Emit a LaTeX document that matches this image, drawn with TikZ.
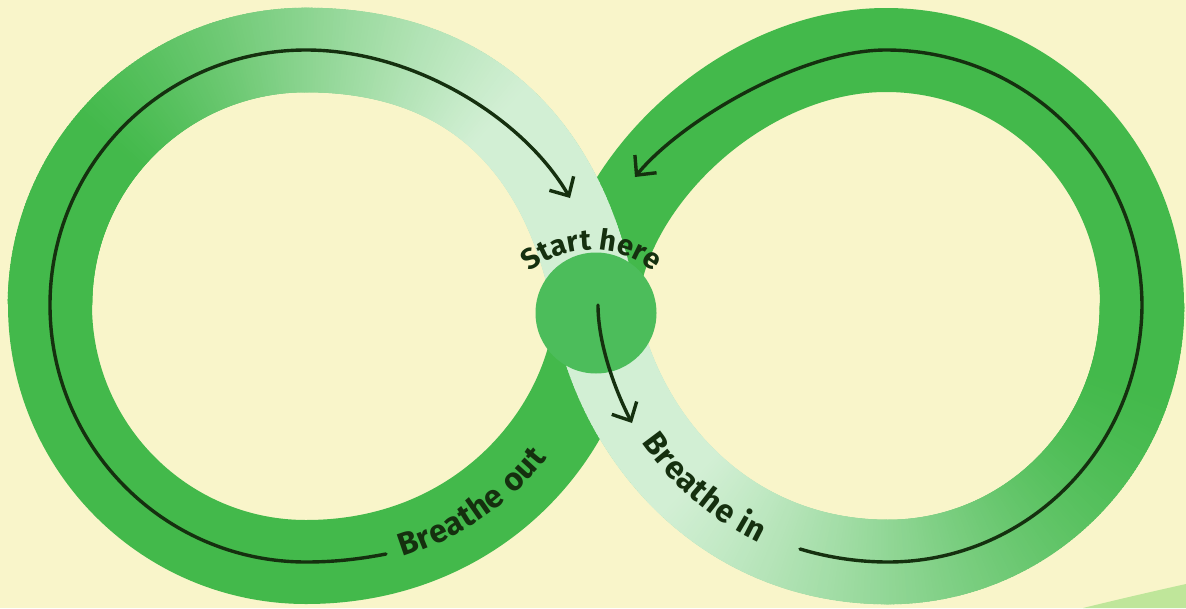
\documentclass[tikz,border=0pt]{standalone}
\usepackage{fontspec}
\setmainfont{Fira Sans}
\usetikzlibrary{decorations.markings,decorations.text,arrows.meta}
\definecolor{bg}{HTML}{F9F5CA}
\definecolor{darkg}{HTML}{43B94B}
\definecolor{lightg}{HTML}{D2EFD4}
\definecolor{circg}{HTML}{4CBD5B}
\definecolor{ink}{HTML}{15300F}
\definecolor{cornerg}{HTML}{BFE69A}
\newcommand\gradpiece{%
  \pgfgettransformentries{\tma}{\tmb}{\tmc}{\tmd}{\tmx}{\tmy}%
  \pgfmathsetmacro\gradt{100*((\tmx<595) ? max(0,min(1,(\tmx-110)/390)) : max(0,min(1,1-(\tmx-690)/440)))}%
  \colorlet{segc}{lightg!\gradt!darkg}%
  \fill[segc] (-2.6pt,-42.3pt) rectangle (2.6pt,42.3pt);%
}
\tikzset{
  band/.style={draw=darkg, line width=84pt},
  gradband/.style={decoration={markings, mark=between positions 0 and 1 step 3pt with {\gradpiece}}, decorate},
  arrowline/.style={draw=ink, line width=3.4pt, line cap=round, -{Straight Barb[length=14.5pt,width=28pt]}},
  hub/.style={circle, fill=circg, minimum size=121pt, inner sep=0pt},
  labeltext/.style={decorate, decoration={text along path, text color=ink, #1}}
}
\begin{document}
\begin{tikzpicture}[x=1pt,y=-1pt]
\useasboundingbox (0,0) rectangle (1186,608);
\fill[bg] (0,0) rectangle (1186,608);
\fill[cornerg] (1083,608) .. controls (1120,599) and (1150,592) .. (1186,584) -- (1186,608) -- cycle;

\coordinate (C) at (596,313);
\coordinate (LB) at (306,562);
\coordinate (LL) at (50,305);
\coordinate (LT) at (306,50);
\coordinate (RB) at (888,562);
\coordinate (RR) at (1142,305);
\coordinate (RT) at (886,50);

% dark band (whole figure eight)
\path[band] (C) .. controls (622,443) and (728,562) .. (RB)
  .. controls (1028,562) and (1142,447) .. (RR)
  .. controls (1142,164) and (1027,50) .. (RT)
  .. controls (736,50) and (596,193) .. (C)
  .. controls (590.5,423) and (486,562) .. (LB)
  .. controls (165,562) and (50,447) .. (LL)
  .. controls (50,164) and (165,50) .. (LT)
  .. controls (476,50) and (568.8,153) .. cycle;

% light strand with horizontal gradient
\path[gradband] (LL) .. controls (50,164) and (165,50) .. (LT)
  .. controls (476,50) and (568.8,153) .. (C)
  .. controls (622,443) and (728,562) .. (RB)
  .. controls (1028,562) and (1142,447) .. (RR);

\node[hub] (hubnode) at (C) {};

% arrows
\coordinate (a1s) at (386,554);
\coordinate (a1e) at (570,198);
\draw[arrowline] (a1s) .. controls (355,560) and (330,562) .. (LB)
  .. controls (165,562) and (50,447) .. (LL)
  .. controls (50,164) and (165,50) .. (LT)
  .. controls (416,50) and (525,120) .. (a1e);
\coordinate (a2s) at (800,549);
\coordinate (a2e) at (635,177);
\draw[arrowline] (a2s) .. controls (830,558) and (860,562) .. (RB)
  .. controls (1028,562) and (1141,447) .. (RR)
  .. controls (1141,164) and (1027,50) .. (RT)
  .. controls (800,50) and (680,122) .. (a2e);
\coordinate (a3s) at (598,305);
\coordinate (a3e) at (632,423);
\draw[arrowline] (a3s) .. controls (598,345) and (616,392) .. (a3e);

% labels
\path[labeltext={text={|\fontsize{29pt}{30pt}\selectfont\bfseries|Start here}, text align=center}]
  (507,299) .. controls (544.7,233.7) and (639.3,233.7) .. (677,299);
\path[labeltext={text={|\fontsize{32pt}{34pt}\selectfont\bfseries|Breathe out}, text align={left, left indent=95pt}, raise=-9pt}]
  (LB) .. controls (486,562) and (590.5,423) .. (C);
\path[labeltext={text={|\fontsize{32pt}{34pt}\selectfont\bfseries|Breathe in}, text align={left, left indent=136pt}, raise=-9pt}]
  (C) .. controls (622,443) and (728,562) .. (RB);
\end{tikzpicture}
\end{document}
